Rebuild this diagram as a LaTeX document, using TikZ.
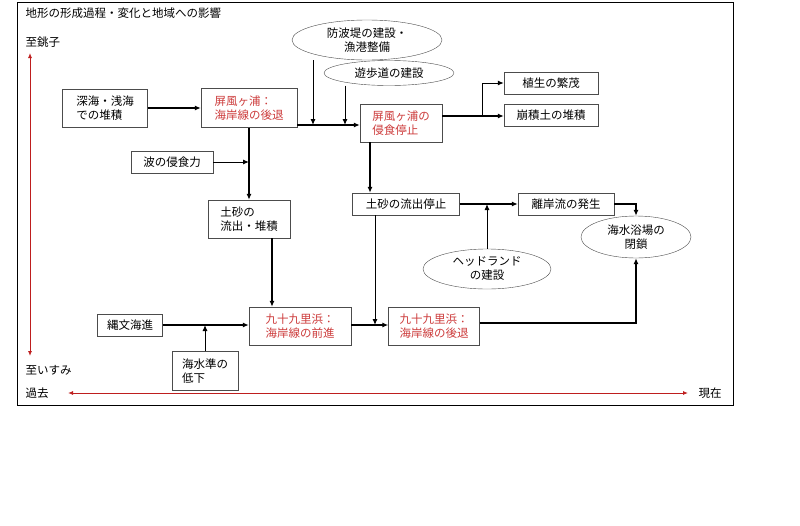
\documentclass[tikz,border=0pt]{standalone}
\usepackage{fontspec}
\newfontfamily\jp{Noto Sans CJK JP}
\usetikzlibrary{arrows.meta,shapes.geometric}
\definecolor{redtext}{RGB}{205,60,60}
\definecolor{timeline}{RGB}{190,30,30}

\begin{document}
\begin{tikzpicture}[x=1pt,y=-1pt,font=\jp\fontsize{11.5}{14}\selectfont]
    \tikzstyle{box}=[draw=black!70,fill=white,align=left,inner sep=2pt]
    \tikzstyle{red box}=[box,text=redtext]
    \tikzstyle{event}=[ellipse,draw=black!70,fill=white,align=center,inner sep=0pt]
    \tikzstyle{flow}=[-{Latex[length=6pt,width=5pt]},line width=1.4pt]
    \tikzstyle{side}=[-{Latex[length=6pt,width=5pt]},line width=1pt]
    \tikzstyle{time}=[{Latex[length=5pt,width=4pt]}-{Latex[length=5pt,width=4pt]},timeline,line width=0.9pt]

    \useasboundingbox (0,0) rectangle (800,525);
    \draw[line width=1pt] (17,2) rectangle (733,405);
    \node[anchor=west] (title) at (22,13) {地形の形成過程・変化と地域への影響};

    % time axes
    \node[anchor=west] (choshi) at (22,42) {至銚子};
    \node[anchor=west] (isumi) at (22,370) {至いすみ};
    \node[anchor=west] (past) at (22,393) {過去};
    \node[anchor=west] (now) at (695,393) {現在};
    \draw[time] (30,53) -- (30,356);
    \draw[time] (68,393) -- (688,393);

    % boxes
    \node[box, minimum width=85pt, minimum height=38pt] (deep) at (105,108) {深海・浅海\\での堆積};
    \node[red box, minimum width=96pt, minimum height=39pt] (byo) at (249,108) {屏風ヶ浦：\\海岸線の後退};
    \node[box, minimum width=82pt, minimum height=22pt] (wave) at (172,162) {波の侵食力};
    \node[box, minimum width=82pt, minimum height=38pt] (sand) at (249,219) {土砂の\\流出・堆積};
    \node[red box, minimum width=82pt, minimum height=38pt] (stop) at (401,123) {屏風ヶ浦の\\侵食停止};
    \node[box, minimum width=94pt, minimum height=22pt] (plant) at (551,83) {植生の繁茂};
    \node[box, minimum width=94pt, minimum height=22pt] (coll) at (551,115) {崩積土の堆積};
    \node[box, minimum width=107pt, minimum height=22pt] (sandstop) at (406,204) {土砂の流出停止};
    \node[box, minimum width=96pt, minimum height=22pt] (rip) at (566,204) {離岸流の発生};
    \node[box, minimum width=65pt, minimum height=22pt] (jomon) at (130,325) {縄文海進};
    \node[box, minimum width=66pt, minimum height=39pt] (sea) at (205,371) {海水準の\\低下};
    \node[red box, minimum width=102pt, minimum height=38pt] (adv) at (300,326) {九十九里浜：\\海岸線の前進};
    \node[red box, minimum width=91pt, minimum height=38pt] (ret) at (434,326) {九十九里浜：\\海岸線の後退};

    % ellipses
    \node[event, minimum width=150pt, minimum height=40pt] (wall) at (367,40) {防波堤の建設・\\漁港整備};
    \node[event, minimum width=130pt, minimum height=25pt] (walk) at (389,73) {遊歩道の建設};
    \node[event, minimum width=110pt, minimum height=42pt] (beach) at (636,237) {海水浴場の\\閉鎖};
    \node[event, minimum width=128pt, minimum height=40pt] (head) at (487,269) {ヘッドランド\\の建設};

    % connectors
    \draw[flow] (deep) -- (byo);
    \draw[flow] (byo.east |- 0,125) -- (stop.west |- 0,125);
    \draw[side] (wall.south -| 313,0) -- (313,125);
    \draw[side] (walk.south -| 345,0) -- (345,125);
    \draw[flow] (byo) -- (sand);
    \draw[side] (wave) -- (249,162);
    \draw[flow] (sand.south -| 272,0) -- (adv.north -| 272,0);
    \draw[flow] (jomon) -- (adv.west |- jomon);
    \draw[side] (sea.north) -- (205,325);
    \draw[flow] (adv.east |- 0,325) -- (ret.west |- 0,325);
    \draw[side] (sandstop.south -| 375,0) -- (375,325);
    \draw[flow] (stop.south -| 370,0) -- (sandstop.north -| 370,0);
    \draw[flow] (stop.east |- 0,116) -- (coll.west |- 0,116);
    \draw[side] (482,116) |- (plant.west);
    \draw[flow] (sandstop) -- (rip);
    \draw[side] (head.north) -- (487,204);
    \draw[flow] (rip.east) -| (beach.north);
    \draw[flow] (ret.east |- 0,323) -| (beach.south);
\end{tikzpicture}
\end{document}
